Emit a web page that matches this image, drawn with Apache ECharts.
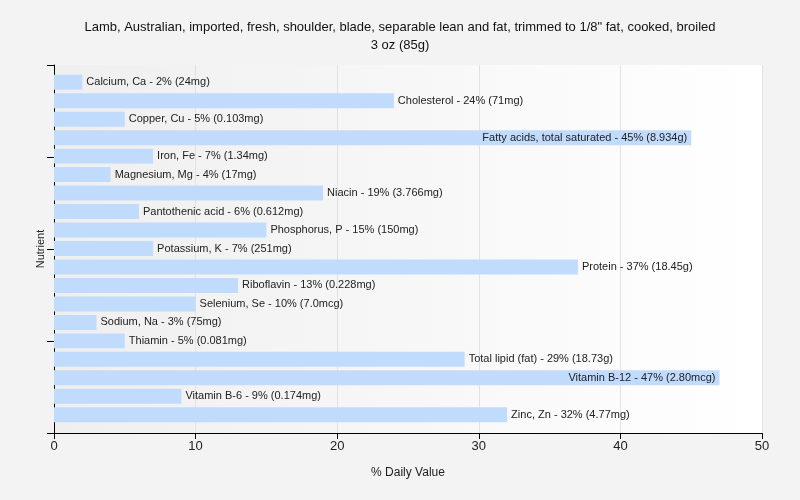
<!DOCTYPE html>
<html><head><meta charset="utf-8">
<script src="https://cdn.jsdelivr.net/npm/echarts@6/dist/echarts.min.js"></script>
<style>html,body{margin:0;padding:0;background:#f3f3f3;}#c{width:800px;height:500px;}</style>
</head><body><div id="c"></div>
<script>
const categories = ["Calcium, Ca","Cholesterol","Copper, Cu","Fatty acids, total saturated","Iron, Fe","Magnesium, Mg","Niacin","Pantothenic acid","Phosphorus, P","Potassium, K","Protein","Riboflavin","Selenium, Se","Sodium, Na","Thiamin","Total lipid (fat)","Vitamin B-12","Vitamin B-6","Zinc, Zn"];
const values = [2,24,5,45,7,4,19,6,15,7,37,13,10,3,5,29,47,9,32];
const amounts = ["24mg","71mg","0.103mg","8.934g","1.34mg","17mg","3.766mg","0.612mg","150mg","251mg","18.45g","0.228mg","7.0mcg","75mg","0.081mg","18.73g","2.80mcg","0.174mg","4.77mg"];
const xTicks = [0,10,20,30,40,50];

const chart = echarts.init(document.getElementById('c'));
const data = values.map((v,i)=>({
  value: v,
  label: { position: v > 40 ? 'insideRight' : 'right' }
}));
const font = 'Liberation Sans';
chart.setOption({
  backgroundColor: '#f3f3f3',
  animation: false,
  title: {
    text: 'Lamb, Australian, imported, fresh, shoulder, blade, separable lean and fat, trimmed to 1/8" fat, cooked, broiled\n3 oz (85g)',
    left: 'center', top: 13,
    textStyle: { fontFamily: font, fontSize: 13, fontWeight: 'normal', color: '#111', lineHeight: 18 }
  },
  grid: [
    { left: 54, right: 38, top: 65, bottom: 67, show: true, borderWidth: 0,
      backgroundColor: new echarts.graphic.LinearGradient(0,0,1,0,[{offset:0,color:'#efefef'},{offset:1,color:'#ffffff'}]) },
    { left: 54, right: 38, top: 73, bottom: 76 }
  ],
  xAxis: [{
    gridIndex: 0,
    type: 'value', min: xTicks[0], max: xTicks[xTicks.length-1], interval: 10,
    name: '% Daily Value', nameLocation: 'middle', nameGap: 34,
    nameTextStyle: { fontFamily: font, fontSize: 12, color: '#222' },
    axisLine: { show: true, lineStyle: { color: '#000' } },
    axisTick: { show: true, length: 6, lineStyle: { color: '#000' } },
    axisLabel: { fontFamily: font, fontSize: 13, color: '#222', margin: 7 },
    splitLine: { show: true, lineStyle: { color: '#e2e2e2' } }
  },{
    gridIndex: 1,
    type: 'value', min: xTicks[0], max: xTicks[xTicks.length-1], interval: 10,
    show: false
  }],
  yAxis: [{
    gridIndex: 0,
    type: 'value', min: 0, max: 4, interval: 1, position: 'left',
    name: 'Nutrient', nameLocation: 'middle', nameGap: 8, nameRotate: 90,
    nameTextStyle: { fontFamily: font, fontSize: 11, color: '#222' },
    axisLine: { show: true, lineStyle: { color: '#000' } }, axisLabel: { show: false },
    axisTick: { show: true, length: 7, lineStyle: { color: '#000' } },
    splitLine: { show: false }
  },{
    gridIndex: 1,
    type: 'category', data: categories, inverse: true,
    axisLine: { show: false }, axisTick: { show: false }, axisLabel: { show: false }
  }],
  series: [{
    type: 'bar', xAxisIndex: 1, yAxisIndex: 1, data: data, barWidth: '81%',
    itemStyle: { color: '#c1dbfc' },
    label: {
      show: true, distance: 4,
      fontFamily: font, fontSize: 11, color: '#222',
      formatter: p => categories[p.dataIndex] + ' - ' + values[p.dataIndex] + '% (' + amounts[p.dataIndex] + ')'
    }
  }]
});
</script></body></html>
